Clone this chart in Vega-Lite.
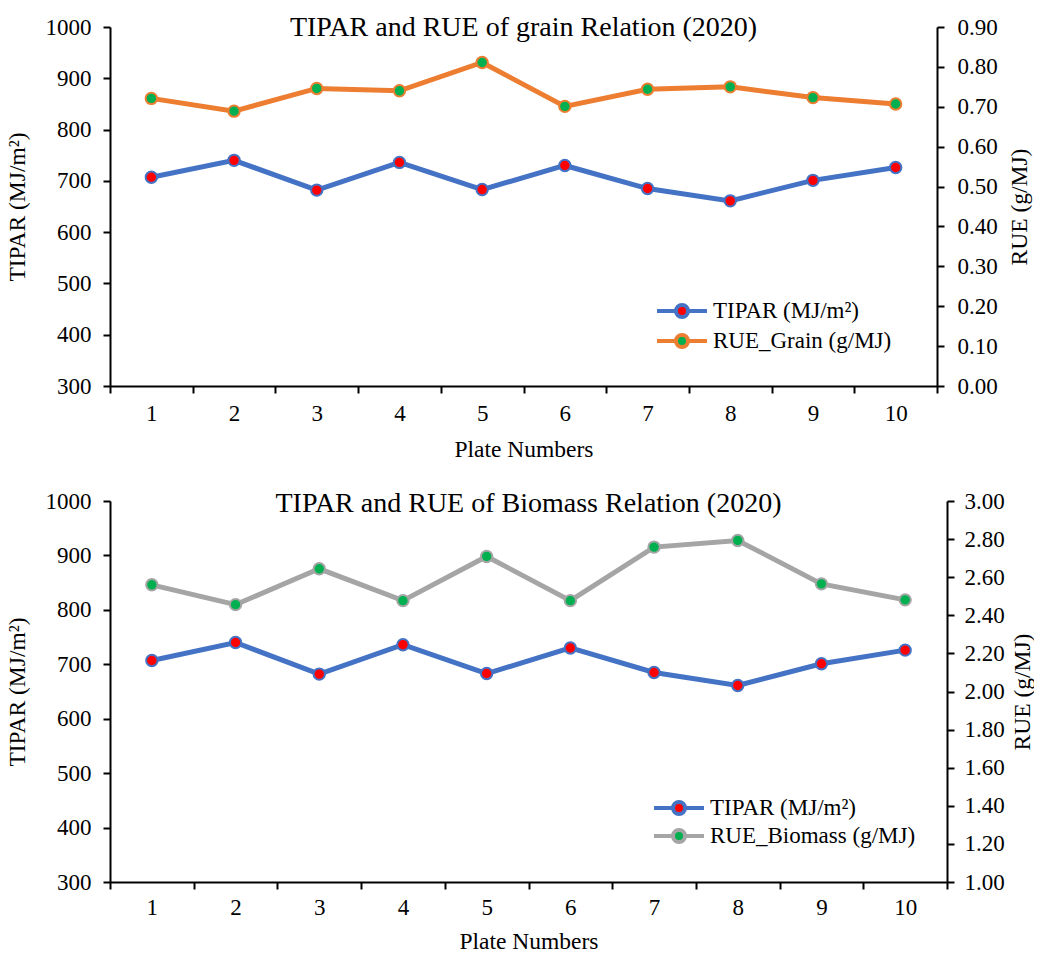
{
  "$schema": "https://vega.github.io/schema/vega-lite/v6.json",
  "padding": {"top": 14, "left": 5, "right": 0, "bottom": 0},
  "background": "white",
  "config": {
    "font": "Liberation Serif",
    "view": {"stroke": null},
    "axis": {
      "domainColor": "black", "domainWidth": 2, "tickColor": "black", "tickWidth": 2, "tickSize": 7,
      "labelFont": "Liberation Serif", "labelFontSize": 23, "labelColor": "black",
      "titleFont": "Liberation Serif", "titleFontSize": 23.5, "titleFontWeight": "normal", "titleColor": "black",
      "grid": false
    },
    "legend": {"labelFont": "Liberation Serif", "labelFontSize": 23, "labelColor": "black", "labelLimit": 400},
    "title": {"font": "Liberation Serif", "fontSize": 28, "fontWeight": "normal", "color": "black"}
  },
  "datasets": {
    "rows": [
      {"panel": "grain", "plate": 1, "axis": "left", "series": "TIPAR (MJ/m²)", "value": 707},
      {"panel": "grain", "plate": 2, "axis": "left", "series": "TIPAR (MJ/m²)", "value": 740},
      {"panel": "grain", "plate": 3, "axis": "left", "series": "TIPAR (MJ/m²)", "value": 682},
      {"panel": "grain", "plate": 4, "axis": "left", "series": "TIPAR (MJ/m²)", "value": 736},
      {"panel": "grain", "plate": 5, "axis": "left", "series": "TIPAR (MJ/m²)", "value": 683},
      {"panel": "grain", "plate": 6, "axis": "left", "series": "TIPAR (MJ/m²)", "value": 730},
      {"panel": "grain", "plate": 7, "axis": "left", "series": "TIPAR (MJ/m²)", "value": 685},
      {"panel": "grain", "plate": 8, "axis": "left", "series": "TIPAR (MJ/m²)", "value": 661},
      {"panel": "grain", "plate": 9, "axis": "left", "series": "TIPAR (MJ/m²)", "value": 701},
      {"panel": "grain", "plate": 10, "axis": "left", "series": "TIPAR (MJ/m²)", "value": 726},
      {"panel": "grain", "plate": 1, "axis": "right", "series": "RUE_Grain (g/MJ)", "value": 0.721},
      {"panel": "grain", "plate": 2, "axis": "right", "series": "RUE_Grain (g/MJ)", "value": 0.689},
      {"panel": "grain", "plate": 3, "axis": "right", "series": "RUE_Grain (g/MJ)", "value": 0.746},
      {"panel": "grain", "plate": 4, "axis": "right", "series": "RUE_Grain (g/MJ)", "value": 0.740},
      {"panel": "grain", "plate": 5, "axis": "right", "series": "RUE_Grain (g/MJ)", "value": 0.811},
      {"panel": "grain", "plate": 6, "axis": "right", "series": "RUE_Grain (g/MJ)", "value": 0.701},
      {"panel": "grain", "plate": 7, "axis": "right", "series": "RUE_Grain (g/MJ)", "value": 0.744},
      {"panel": "grain", "plate": 8, "axis": "right", "series": "RUE_Grain (g/MJ)", "value": 0.750},
      {"panel": "grain", "plate": 9, "axis": "right", "series": "RUE_Grain (g/MJ)", "value": 0.723},
      {"panel": "grain", "plate": 10, "axis": "right", "series": "RUE_Grain (g/MJ)", "value": 0.707},
      {"panel": "biomass", "plate": 1, "axis": "left", "series": "TIPAR (MJ/m²)", "value": 707},
      {"panel": "biomass", "plate": 2, "axis": "left", "series": "TIPAR (MJ/m²)", "value": 740},
      {"panel": "biomass", "plate": 3, "axis": "left", "series": "TIPAR (MJ/m²)", "value": 682},
      {"panel": "biomass", "plate": 4, "axis": "left", "series": "TIPAR (MJ/m²)", "value": 736},
      {"panel": "biomass", "plate": 5, "axis": "left", "series": "TIPAR (MJ/m²)", "value": 683},
      {"panel": "biomass", "plate": 6, "axis": "left", "series": "TIPAR (MJ/m²)", "value": 730},
      {"panel": "biomass", "plate": 7, "axis": "left", "series": "TIPAR (MJ/m²)", "value": 685},
      {"panel": "biomass", "plate": 8, "axis": "left", "series": "TIPAR (MJ/m²)", "value": 661},
      {"panel": "biomass", "plate": 9, "axis": "left", "series": "TIPAR (MJ/m²)", "value": 701},
      {"panel": "biomass", "plate": 10, "axis": "left", "series": "TIPAR (MJ/m²)", "value": 726},
      {"panel": "biomass", "plate": 1, "axis": "right", "series": "RUE_Biomass (g/MJ)", "value": 2.56},
      {"panel": "biomass", "plate": 2, "axis": "right", "series": "RUE_Biomass (g/MJ)", "value": 2.456},
      {"panel": "biomass", "plate": 3, "axis": "right", "series": "RUE_Biomass (g/MJ)", "value": 2.644},
      {"panel": "biomass", "plate": 4, "axis": "right", "series": "RUE_Biomass (g/MJ)", "value": 2.477},
      {"panel": "biomass", "plate": 5, "axis": "right", "series": "RUE_Biomass (g/MJ)", "value": 2.709},
      {"panel": "biomass", "plate": 6, "axis": "right", "series": "RUE_Biomass (g/MJ)", "value": 2.477},
      {"panel": "biomass", "plate": 7, "axis": "right", "series": "RUE_Biomass (g/MJ)", "value": 2.758},
      {"panel": "biomass", "plate": 8, "axis": "right", "series": "RUE_Biomass (g/MJ)", "value": 2.793},
      {"panel": "biomass", "plate": 9, "axis": "right", "series": "RUE_Biomass (g/MJ)", "value": 2.565},
      {"panel": "biomass", "plate": 10, "axis": "right", "series": "RUE_Biomass (g/MJ)", "value": 2.481}
    ]
  },
  "spacing": 29,
  "resolve": {"scale": {"color": "independent"}, "legend": {"color": "independent"}},
  "vconcat": [
    {
      "width": 827, "height": 359,
      "title": {"text": "TIPAR and RUE of grain Relation (2020)", "anchor": "middle", "frame": "group", "baseline": "alphabetic", "offset": -11, "dy": 37},
      "data": {"name": "rows"},
      "transform": [{"filter": "datum.panel === 'grain'"}],
      "encoding": {
        "x": {"field": "plate", "type": "ordinal", "bandPosition": 0.5,
              "scale": {"type": "band", "paddingInner": 0, "paddingOuter": 0},
              "axis": {"title": "Plate Numbers", "labelAngle": 0, "tickBand": "extent", "labelPadding": 9, "titlePadding": 12}}
      },
      "layer": [
        {
          "transform": [{"filter": "datum.axis === 'left'"}],
          "encoding": {"y": {"field": "value", "type": "quantitative", "scale": {"domain": [300, 1000]},
                              "axis": {"orient": "left", "title": "TIPAR (MJ/m²)", "values": [300, 400, 500, 600, 700, 800, 900, 1000], "format": "d", "labelPadding": 12, "titlePadding": 16}}},
          "layer": [
            {"mark": {"type": "line", "strokeWidth": 5},
             "encoding": {"color": {"field": "series", "type": "nominal",
                "scale": {"domain": ["TIPAR (MJ/m²)", "RUE_Grain (g/MJ)"], "range": ["#4472C4", "#ED7D31"]},
                "legend": {"title": null, "orient": "none", "legendX": 560, "legendY": 272, "padding": 0,
                  "symbolType": "M-2.5,0L-0.6,0M0.6,0L2.5,0M0.6,0A0.6,0.6 0 1,1 -0.6,0A0.6,0.6 0 1,1 0.6,0Z",
                  "symbolSize": 400, "symbolStrokeWidth": 4, "labelOffset": 19, "rowPadding": 2,
                  "encode": {"symbols": {"update": {"fill": [{"test": "indexof(datum.value, 'TIPAR') >= 0", "value": "#FF0000"}, {"value": "#00B050"}], "fillOpacity": {"value": 1}}}}}}}},
            {"mark": {"type": "point", "filled": true, "fill": "#FF0000", "stroke": "#4472C4", "strokeWidth": 2, "size": 130, "opacity": 1}}
          ]
        },
        {
          "transform": [{"filter": "datum.axis === 'right'"}],
          "encoding": {"y": {"field": "value", "type": "quantitative", "scale": {"domain": [0, 0.9]},
                              "axis": {"orient": "right", "title": "RUE (g/MJ)", "values": [0, 0.1, 0.2, 0.3, 0.4, 0.5, 0.6, 0.7, 0.8, 0.9], "format": ".2f", "labelPadding": 13, "titlePadding": 10, "titleAngle": 270, "titleBaseline": "top"}}},
          "layer": [
            {"mark": {"type": "line", "strokeWidth": 5},
             "encoding": {"color": {"field": "series", "type": "nominal"}}},
            {"mark": {"type": "point", "filled": true, "fill": "#00B050", "stroke": "#ED7D31", "strokeWidth": 2, "size": 130, "opacity": 1}}
          ]
        }
      ],
      "resolve": {"scale": {"y": "independent"}}
    },
    {
      "width": 837, "height": 381,
      "title": {"text": "TIPAR and RUE of Biomass Relation (2020)", "anchor": "middle", "frame": "group", "baseline": "alphabetic", "offset": -12, "dy": 38},
      "data": {"name": "rows"},
      "transform": [{"filter": "datum.panel === 'biomass'"}],
      "encoding": {
        "x": {"field": "plate", "type": "ordinal", "bandPosition": 0.5,
              "scale": {"type": "band", "paddingInner": 0, "paddingOuter": 0},
              "axis": {"title": "Plate Numbers", "labelAngle": 0, "tickBand": "extent", "labelPadding": 7, "titlePadding": 10}}
      },
      "layer": [
        {
          "transform": [{"filter": "datum.axis === 'left'"}],
          "encoding": {"y": {"field": "value", "type": "quantitative", "scale": {"domain": [300, 1000]},
                              "axis": {"orient": "left", "title": "TIPAR (MJ/m²)", "values": [300, 400, 500, 600, 700, 800, 900, 1000], "format": "d", "labelPadding": 12, "titlePadding": 16}}},
          "layer": [
            {"mark": {"type": "line", "strokeWidth": 5},
             "encoding": {"color": {"field": "series", "type": "nominal",
                "scale": {"domain": ["TIPAR (MJ/m²)", "RUE_Biomass (g/MJ)"], "range": ["#4472C4", "#A5A5A5"]},
                "legend": {"title": null, "orient": "none", "legendX": 557, "legendY": 295, "padding": 0,
                  "symbolType": "M-2.5,0L-0.6,0M0.6,0L2.5,0M0.6,0A0.6,0.6 0 1,1 -0.6,0A0.6,0.6 0 1,1 0.6,0Z",
                  "symbolSize": 400, "symbolStrokeWidth": 4, "labelOffset": 19, "rowPadding": 0,
                  "encode": {"symbols": {"update": {"fill": [{"test": "indexof(datum.value, 'TIPAR') >= 0", "value": "#FF0000"}, {"value": "#00B050"}], "fillOpacity": {"value": 1}}}}}}}},
            {"mark": {"type": "point", "filled": true, "fill": "#FF0000", "stroke": "#4472C4", "strokeWidth": 2, "size": 130, "opacity": 1}}
          ]
        },
        {
          "transform": [{"filter": "datum.axis === 'right'"}],
          "encoding": {"y": {"field": "value", "type": "quantitative", "scale": {"domain": [1, 3]},
                              "axis": {"orient": "right", "title": "RUE (g/MJ)", "values": [1, 1.2, 1.4, 1.6, 1.8, 2, 2.2, 2.4, 2.6, 2.8, 3], "format": ".2f", "labelPadding": 10, "titlePadding": 6, "titleAngle": 270, "titleBaseline": "top"}}},
          "layer": [
            {"mark": {"type": "line", "strokeWidth": 5},
             "encoding": {"color": {"field": "series", "type": "nominal"}}},
            {"mark": {"type": "point", "filled": true, "fill": "#00B050", "stroke": "#A5A5A5", "strokeWidth": 2, "size": 130, "opacity": 1}}
          ]
        }
      ],
      "resolve": {"scale": {"y": "independent"}}
    }
  ]
}
